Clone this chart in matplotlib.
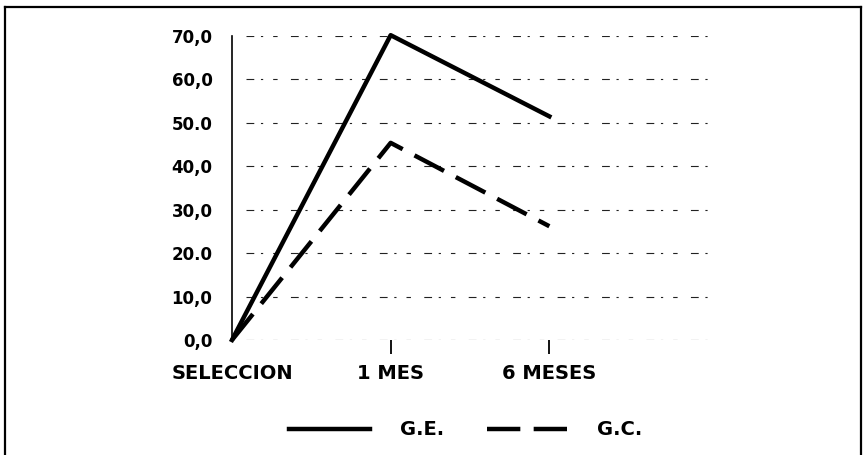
import matplotlib
matplotlib.use('Agg')
import matplotlib.pyplot as plt
from matplotlib.lines import Line2D

# datos
categorias = ['SELECCION', '1 MES', '6 MESES']
g_e = [0.0, 70.2, 51.5]
g_c = [0.0, 45.4, 26.2]
yticks = [0, 10, 20, 30, 40, 50, 60, 70]
ytick_labels = ['0,0', '10,0', '20.0', '30,0', '40,0', '50.0', '60,0', '70,0']

plt.rcParams['font.family'] = 'DejaVu Sans'

fig = plt.figure(figsize=(8.64, 4.55), dpi=100)
ax = fig.add_axes([0.2685, 0.2527, 0.551, 0.6681])

x = list(range(len(categorias)))
ax.plot(x, g_e, color='black', lw=3.2, clip_on=False, label='G.E.')
ax.plot(x, g_c, color='black', lw=3.2, linestyle=(0, (7.5, 3)), clip_on=False, label='G.C.')

# lineas de cuadricula (escaneadas, entrecortadas)
for yv in yticks:
    ax.axhline(yv, xmin=0.03, xmax=1.0, color='#222222', lw=0.8,
               linestyle=(0, (7, 6, 2, 9, 4, 12)), zorder=0)

ax.set_xlim(0, 3)
ax.set_ylim(0, 70)
ax.set_xticks(x)
ax.set_xticklabels(categorias, fontsize=14, fontweight='bold')
ax.set_yticks(yticks)
ax.set_yticklabels(ytick_labels, fontsize=12, fontweight='bold')
ax.tick_params(axis='x', length=10, width=1.3, direction='out', pad=7)
ax.tick_params(axis='y', length=0, pad=14)
ax.xaxis.get_major_ticks()[0].tick1line.set_visible(False)

for s in ['top', 'right', 'bottom']:
    ax.spines[s].set_visible(False)
ax.spines['left'].set_linewidth(1.2)

fig.legend(loc='center', bbox_to_anchor=(0.539, 0.055), ncol=2, frameon=False,
           prop={'size': 14, 'weight': 'bold'}, handlelength=4.2,
           handletextpad=1.5, columnspacing=2.2)

# marco de la figura (abierto abajo)
fig.add_artist(Line2D([5/864, 5/864], [0, 1-7/455], color='black', lw=1.6, transform=fig.transFigure))
fig.add_artist(Line2D([5/864, 861/864], [1-7/455, 1-7/455], color='black', lw=1.6, transform=fig.transFigure))
fig.add_artist(Line2D([861/864, 861/864], [0, 1-7/455], color='black', lw=1.6, transform=fig.transFigure))

fig.savefig('out.png', dpi=100)
